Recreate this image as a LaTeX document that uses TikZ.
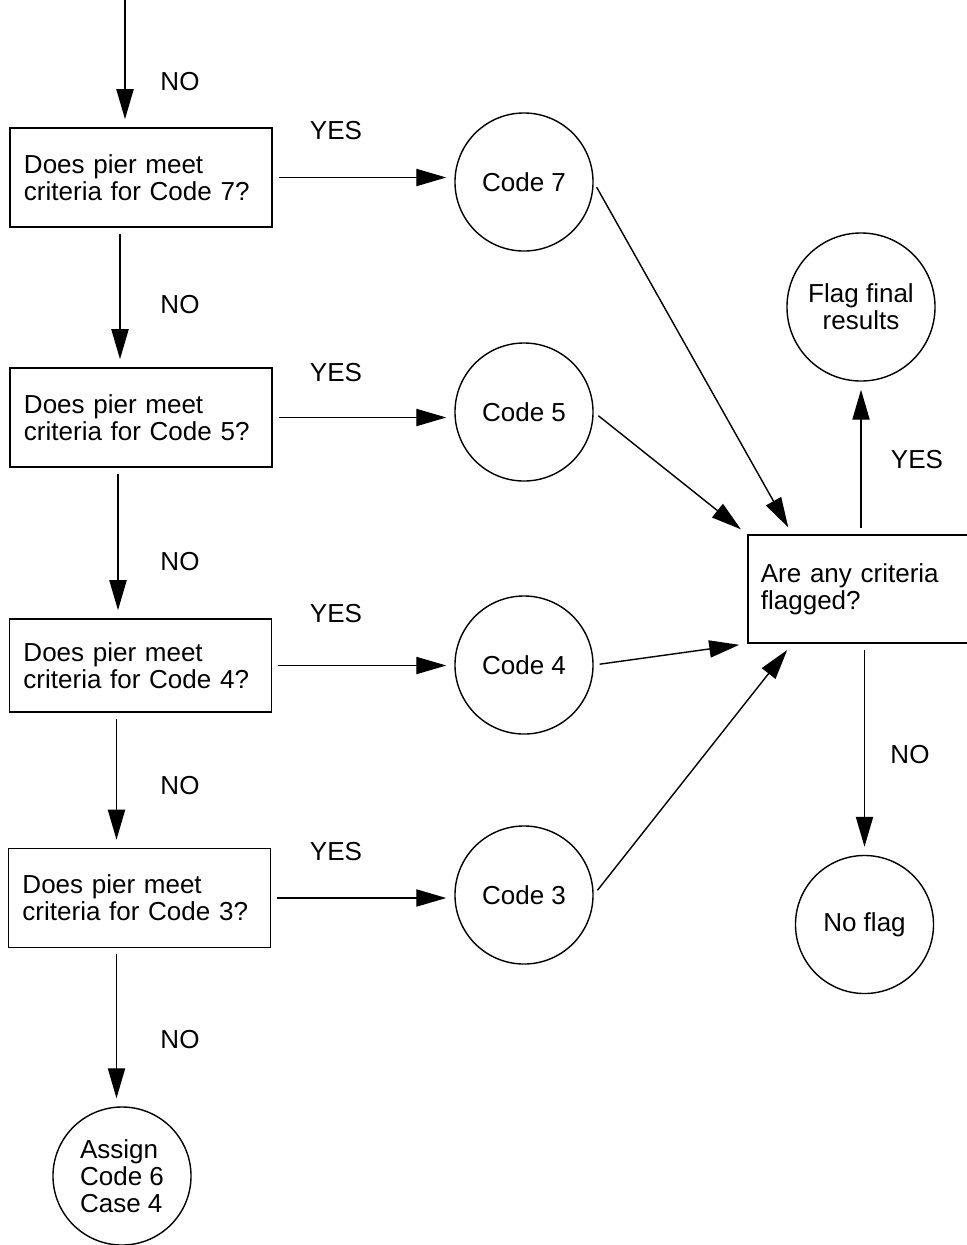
\documentclass[tikz,border=0pt]{standalone}
\usepackage{fontspec}
\setmainfont{Liberation Sans}
\usetikzlibrary{arrows.meta,calc}

\begin{document}
\begin{tikzpicture}[x=0.025cm,y=-0.025cm,line width=1pt,
  font=\fontsize{18.5}{19}\selectfont,
  qbox/.style={draw,rectangle,minimum width=6.55cm,minimum height=2.48cm,text width=5.85cm,align=left,inner sep=0pt},
  codecirc/.style={draw,circle,minimum size=3.45cm,inner sep=0pt,align=center},
  lbl/.style={inner sep=0pt},
  arr/.style={-{Triangle[length=7.5mm,width=4.3mm]},shorten <=0.15cm,shorten >=0.2cm}]
\useasboundingbox (0,0) rectangle (967,1245);

\node[qbox] (q7) at (141,177.5) {Does pier meet\\criteria for Code 7?};
\node[qbox] (q5) at (141,417.5) {Does pier meet\\criteria for Code 5?};
\node[qbox,minimum height=2.33cm] (q4) at (140.5,665.5) {Does pier meet\\criteria for Code 4?};
\node[qbox] (q3) at (139.5,898) {Does pier meet\\criteria for Code 3?};

\node[codecirc] (c7) at (524,182) {Code 7};
\node[codecirc] (c5) at (524,412) {Code 5};
\node[codecirc] (c4) at (524,665) {Code 4};
\node[codecirc] (c3) at (524,895) {Code 3};
\node[codecirc,align=left] (asg) at (122,1176) {Assign\\Code 6\\Case 4};

\node[draw,rectangle,minimum width=5.53cm,minimum height=2.7cm,text width=4.88cm,align=left,inner sep=0pt] (crit) at (858.5,589) {Are any criteria\\flagged?};
\node[codecirc,minimum size=3.7cm] (fin) at (861,307) {Flag final\\results};
\node[codecirc] (nof) at (864.5,924.5) {No flag};

\coordinate (top) at (125,0);
\coordinate (d3) at ($(q3.south)+(-23,0)$);
\draw[arr,shorten <=0pt] (top) -- (top |- q7.north);
\draw[arr] ($(q7.south)+(-21,0)$) -- ($(q5.north)+(-21,0)$);
\draw[arr] ($(q5.south)+(-23,0)$) -- ($(q4.north)+(-22.5,0)$);
\draw[arr] ($(q4.south)+(-24,0)$) -- ($(q3.north)+(-23,0)$);
\draw[arr] (d3) -- (d3 |- asg.north);

\draw[arr] (q7.east) -- (q7.east -| c7.west);
\draw[arr] (q5.east) -- (q5.east -| c5.west);
\draw[arr] (q4.east) -- (q4.east -| c4.west);
\draw[arr] (q3.east) -- (q3.east -| c3.west);

\draw[arr] (c7.east) -- ($(crit.north west)+(45,0)$);
\draw[arr] (c5.east) -- (crit.north west);
\draw[arr] (c4.east) -- (crit.south west);
\draw[arr] (c3.east) -- ($(crit.south west)+(45,0)$);

\draw[arr] (fin.south |- crit.north) -- (fin.south);
\draw[arr] (nof.north |- crit.south) -- (nof.north);

\node[lbl] (n1) at (180,82) {NO};
\node[lbl] (n2) at (180,305) {NO};
\node[lbl] (n3) at (180,562) {NO};
\node[lbl] (n4) at (180,786) {NO};
\node[lbl] (n5) at (180,1040) {NO};
\node[lbl] (y1) at (336,131) {YES};
\node[lbl] (y2) at (336,373) {YES};
\node[lbl] (y3) at (336,614) {YES};
\node[lbl] (y4) at (336,852) {YES};
\node[lbl] (y5) at (917,460) {YES};
\node[lbl] (n6) at (910,755) {NO};
\end{tikzpicture}
\end{document}
